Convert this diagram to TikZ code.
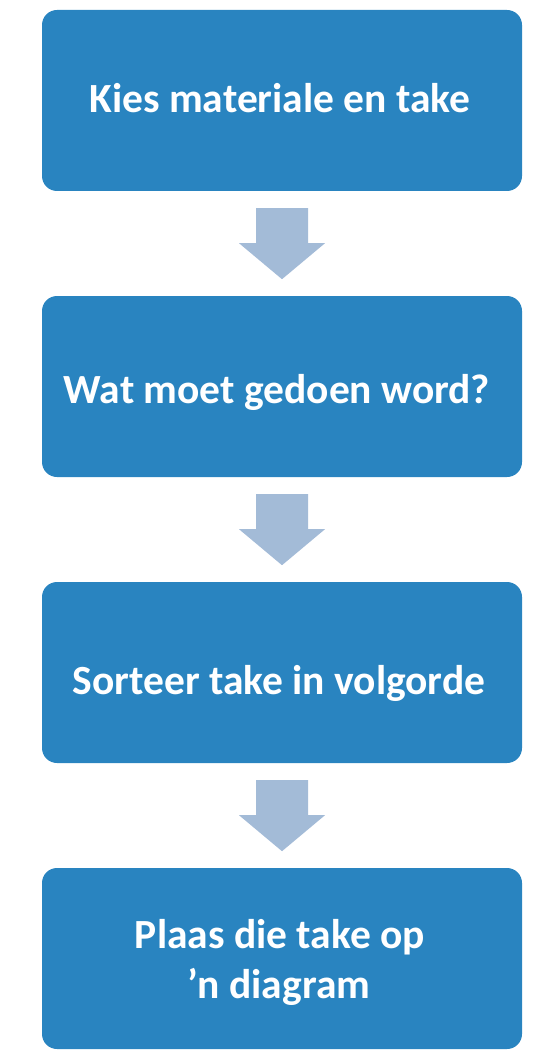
\documentclass[tikz,border=0pt]{standalone}
\usepackage{fontspec}
\setmainfont{Carlito}
\usetikzlibrary{calc}
\definecolor{boxblue}{HTML}{2984C0}
\definecolor{arrowblue}{HTML}{A3BBD7}
\begin{document}
\begin{tikzpicture}[x=1pt,y=-1pt,
  stepbox/.style={fill=boxblue, rounded corners=15pt, minimum width=480pt, minimum height=181pt, inner sep=0pt},
  steptext/.style={text=white, font=\fontsize{41.5}{50}\selectfont\bfseries, anchor=base, inner sep=0pt},
  blockarrow/.style={fill=arrowblue}]
\useasboundingbox (0,0) rectangle (556,1064);
\node[stepbox] (b1) at (282,100.5) {};
\node[stepbox] (b2) at (282,386.5) {};
\node[stepbox] (b3) at (282,672.5) {};
\node[stepbox] (b4) at (282,958.5) {};
\node[steptext] (t1) at (280,113) {Kies materiale en take};
\node[steptext] (t2) at (277,403) {Wat moet gedoen word?};
\node[steptext] (t3) at (279,694) {Sorteer take in volgorde};
\node[steptext] (t4a) at (280,948) {Plaas die take op};
\node[steptext] (t4b) at (279,998) {’n diagram};
\foreach \a in {b1,b2,b3}{
  \fill[blockarrow] ($(\a.south)+(-26,17)$) -- ($(\a.south)+(26,17)$) -- ($(\a.south)+(26,52)$)
    -- ($(\a.south)+(43,52)$) -- ($(\a.south)+(0,88)$) -- ($(\a.south)+(-43,52)$)
    -- ($(\a.south)+(-26,52)$) -- cycle;
}
\end{tikzpicture}
\end{document}
